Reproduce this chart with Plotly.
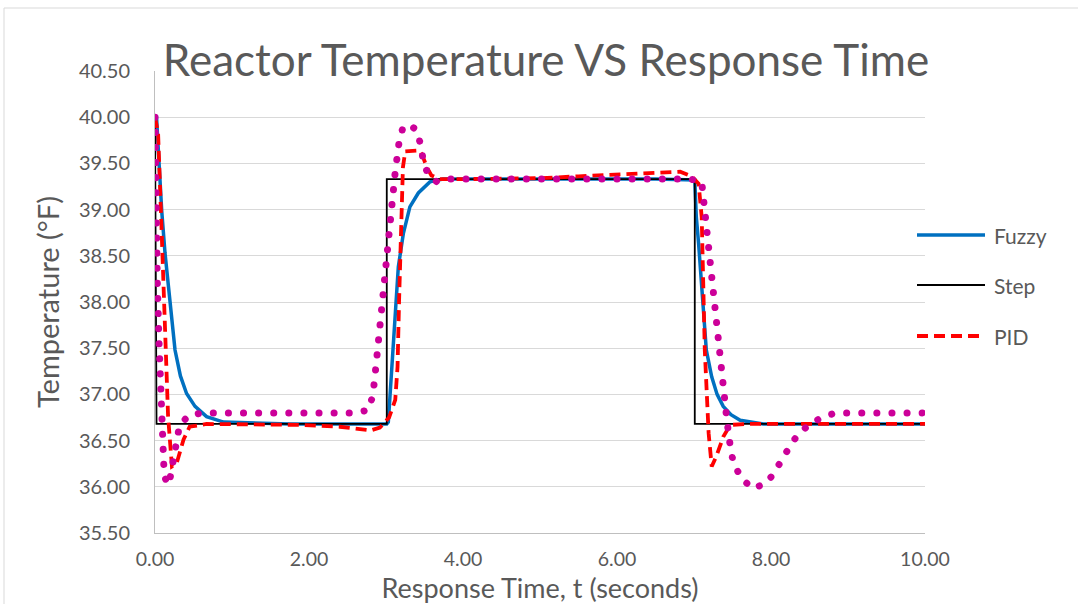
import plotly.graph_objects as go

# ---------------- data ----------------
fuzzy_t = [0.0, 0.02, 0.043, 0.087, 0.13, 0.195, 0.26, 0.33, 0.41, 0.52, 0.67, 0.89, 1.2, 1.75,
           2.5, 3.01, 3.03, 3.06, 3.095, 3.16, 3.225, 3.31, 3.42, 3.57, 3.74, 4.2, 5.0, 6.0, 6.5,
           7.01, 7.03, 7.06, 7.08, 7.12, 7.16, 7.23, 7.3, 7.38, 7.48, 7.6, 7.9, 8.5, 9.0, 10.0]
fuzzy_v = [40.0, 40.0, 39.65, 38.99, 38.53, 38.02, 37.48, 37.2, 37.01, 36.87, 36.76, 36.70, 36.69, 36.68,
           36.68, 36.68, 36.70, 37.1, 37.66, 38.38, 38.74, 39.03, 39.18, 39.30, 39.33, 39.33, 39.33, 39.33, 39.33,
           39.32, 38.92, 38.63, 38.38, 38.02, 37.48, 37.19, 37.0, 36.87, 36.78, 36.72, 36.68, 36.68, 36.68, 36.68]

step_t = [0.0, 0.02, 3.01, 3.01, 7.01, 7.01, 10.0]
step_v = [40.0, 36.68, 36.68, 39.33, 39.33, 36.68, 36.68]

pid_t = [0.0, 0.04, 0.087, 0.13, 0.17, 0.22, 0.28, 0.37, 0.45, 0.67, 1.0, 1.5, 1.9, 2.4, 2.8, 2.92,
         3.04, 3.12, 3.15, 3.17, 3.2, 3.22, 3.25, 3.44, 3.48, 3.53, 3.59, 3.7, 4.0, 5.0, 5.5, 6.0, 6.5,
         6.82, 6.97, 7.06, 7.1, 7.12, 7.14, 7.19, 7.23, 7.29, 7.38, 7.47, 7.7, 8.5, 10.0]
pid_v = [40.0, 39.83, 38.75, 37.66, 36.76, 36.22, 36.25, 36.51, 36.65, 36.68, 36.68, 36.68, 36.67, 36.65, 36.61, 36.64,
         36.75, 36.94, 37.30, 38.02, 38.74, 39.46, 39.63, 39.64, 39.57, 39.46, 39.37, 39.33, 39.33, 39.34, 39.36, 39.38, 39.40,
         39.41, 39.36, 39.28, 38.92, 38.2, 37.48, 36.58, 36.22, 36.33, 36.54, 36.67, 36.68, 36.68, 36.68]

other_t = [0.0, 0.013, 0.03, 0.052, 0.074, 0.087, 0.1, 0.12, 0.18, 0.22, 0.24, 0.28, 0.32, 0.45, 0.65, 1.5,
           2.6, 2.77, 2.83, 2.87, 2.91, 2.95, 2.99, 3.03, 3.07, 3.12, 3.17, 3.22, 3.3, 3.4, 3.45, 3.48, 3.54,
           3.66, 3.8, 5.0, 6.96, 7.1, 7.14, 7.2, 7.26, 7.32, 7.38, 7.43, 7.48, 7.52, 7.62, 7.76, 7.94, 8.05,
           8.15, 8.25, 8.35, 8.51, 8.68, 8.85, 10.0]
other_v = [40.0, 38.71, 38.22, 37.57, 36.92, 36.6, 36.27, 36.11, 36.02, 36.2, 36.34, 36.51, 36.67, 36.78, 36.80, 36.80,
           36.80, 36.83, 36.99, 37.31, 37.64, 38.12, 38.44, 38.77, 39.10, 39.41, 39.73, 39.89, 39.92, 39.86, 39.70, 39.55, 39.39,
           39.30, 39.33, 39.33, 39.33, 39.30, 38.97, 38.48, 37.99, 37.51, 37.03, 36.70, 36.38, 36.24, 36.09, 35.98, 36.04, 36.16,
           36.31, 36.44, 36.57, 36.68, 36.76, 36.80, 36.80]

y_ticks = [35.5, 36.0, 36.5, 37.0, 37.5, 38.0, 38.5, 39.0, 39.5, 40.0, 40.5]
x_ticks = [0, 2, 4, 6, 8, 10]

legend_names = ["Fuzzy", "Step", "PID"]
legend_colors = ["#0070C0", "#000000", "#FF0000"]
legend_widths = [3.5, 1.8, 3.8]
legend_dashes = ["solid", "solid", "11px,6px"]

FONT = "Lato"
GREY = "#595959"

# plot area in pixels: x 155..925, y 71..533
def px_x(p):
    return (p - 155) / 770


def px_y(p):
    return (533 - p) / 462


fig = go.Figure()
for name, tt, vv, col, w, d in [
    ("Fuzzy", fuzzy_t, fuzzy_v, legend_colors[0], legend_widths[0], legend_dashes[0]),
    ("Step", step_t, step_v, legend_colors[1], legend_widths[1], legend_dashes[1]),
    ("PID", pid_t, pid_v, legend_colors[2], legend_widths[2], legend_dashes[2]),
]:
    fig.add_trace(go.Scatter(x=tt, y=vv, mode="lines", name=name, showlegend=False,
                             line=dict(color=col, width=w, dash=d)))
fig.add_trace(go.Scatter(x=other_t, y=other_v, mode="lines", name="Series4", showlegend=False,
                         line=dict(color="#CC0099", width=7, dash="7px,8px")))

shapes = [dict(type="rect", xref="paper", yref="paper", x0=px_x(4), x1=px_x(1090),
               y0=px_y(615), y1=px_y(8), line=dict(color="#D9D9D9", width=1),
               fillcolor="rgba(0,0,0,0)", layer="below")]
annotations = []
legend_rows = [235, 285, 336]
for i, name in enumerate(legend_names):
    yy = px_y(legend_rows[i])
    shapes.append(dict(type="line", xref="paper", yref="paper", x0=px_x(917), x1=px_x(985), y0=yy, y1=yy,
                       line=dict(color=legend_colors[i], width=legend_widths[i], dash=legend_dashes[i])))
    annotations.append(dict(text=name, xref="paper", yref="paper", x=px_x(992), y=yy, xanchor="left",
                            yanchor="middle", showarrow=False, font=dict(size=21, color=GREY, family=FONT)))

fig.update_layout(
    width=1078, height=604, autosize=False,
    margin=dict(l=155, r=153, t=71, b=71, autoexpand=False),
    paper_bgcolor="white", plot_bgcolor="white",
    font=dict(family=FONT, color=GREY, size=20),
    showlegend=False,
    title=dict(text="Reactor Temperature VS Response Time", font=dict(size=44, color=GREY, family=FONT),
               x=546 / 1078, xref="container", xanchor="center",
               y=1 - 61 / 604, yref="container", yanchor="middle"),
    xaxis=dict(range=[0, 10], tickvals=x_ticks, tickformat=".2f", showgrid=False, automargin=False,
               showline=True, linecolor="#BFBFBF", linewidth=1, zeroline=False, ticks="",
               ticklabelstandoff=9, tickfont=dict(size=19.5, color=GREY),
               title=dict(text="Response Time, t (seconds)", font=dict(size=27, color=GREY), standoff=10)),
    yaxis=dict(range=[35.5, 40.5], tickvals=y_ticks, tickformat=".2f", showgrid=True, automargin=False,
               gridcolor="#D9D9D9", gridwidth=1.3, showline=True, linecolor="#BFBFBF", linewidth=1,
               zeroline=False, ticks="", ticklabelstandoff=20, tickfont=dict(size=20, color=GREY),
               title=dict(text="Temperature (°F)", font=dict(size=29, color=GREY), standoff=10)),
    shapes=shapes,
    annotations=annotations,
)

post = """
var gd = document.getElementById('{plot_id}');
function fixDots(){
  var tr = gd.querySelectorAll('.scatterlayer .trace');
  if (tr.length >= 4) {
    var p = tr[3].querySelector('path.js-line');
    if (p) { p.style.strokeLinecap = 'round'; p.style.strokeDasharray = '0.1px,15px'; }
  }
}
fixDots();
gd.on('plotly_afterplot', fixDots);
"""
fig.write_html("out.html", post_script=post)
